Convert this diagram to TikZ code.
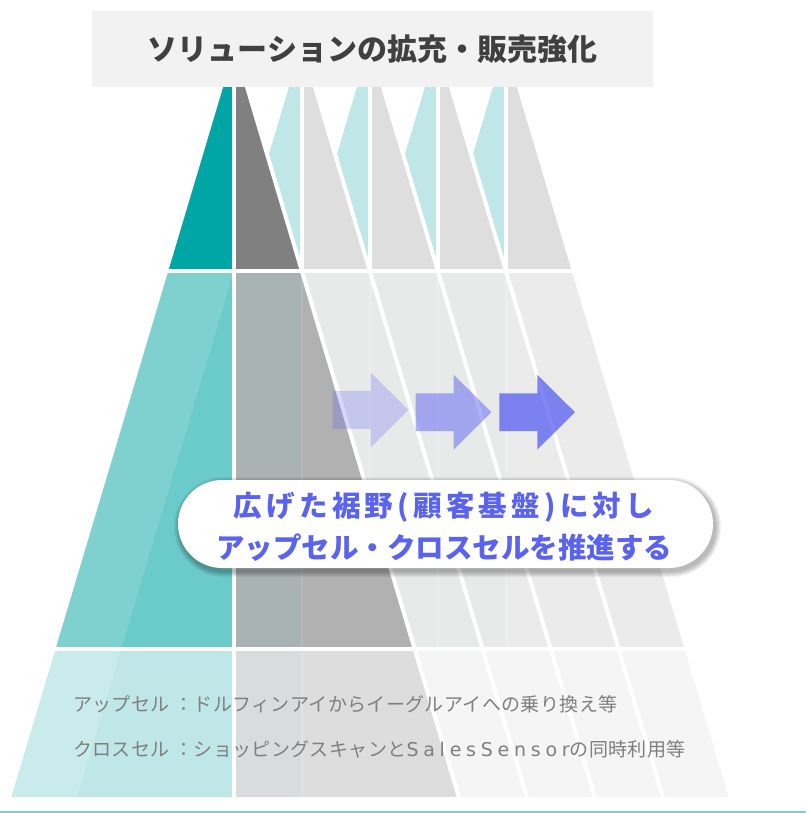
\documentclass[tikz,border=0pt]{standalone}
\usepackage{fontspec}
\setmainfont{Noto Sans CJK JP}
\newfontfamily\latinfont{DejaVu Sans}[LetterSpace=25]
\definecolor{cTeal}{HTML}{00A6A6}
\definecolor{cGray}{HTML}{808080}
\definecolor{cLTeal}{HTML}{BFE7E7}
\definecolor{cLGray}{HTML}{DEDEDE}
\definecolor{cTealB}{HTML}{7FD1D0}
\definecolor{cTealBd}{HTML}{6BCACA}
\definecolor{cGrayB}{HTML}{B1B1B1}
\definecolor{cGrayBt}{HTML}{AAB3B3}
\definecolor{cStripB}{HTML}{B8B8B8}
\definecolor{cLightB}{HTML}{EBEBEB}
\definecolor{cLightBt}{HTML}{E8EAEA}
\definecolor{cStripLB}{HTML}{EEEEEE}
\definecolor{cTealC}{HTML}{CAEBEC}
\definecolor{cTealCd}{HTML}{BFE7E7}
\definecolor{cGrayC}{HTML}{DDDDDD}
\definecolor{cGrayCt}{HTML}{D9DCDD}
\definecolor{cStripC}{HTML}{E2E2E2}
\definecolor{cLightC}{HTML}{F5F5F5}
\definecolor{cTitleBg}{HTML}{F2F2F2}
\definecolor{cTitleTx}{HTML}{404040}
\definecolor{cBlue}{HTML}{5A62F0}
\definecolor{cNote}{HTML}{7F7F7F}
\definecolor{cBase}{HTML}{7CCFCF}
\tikzset{
  gap/.style={draw=white, line width=4pt},
  arrowshape/.style={fill=cBlue, draw=none},
  shadowlayer/.style={fill=black, fill opacity=0.05, draw=none, rounded corners=#1},
}
\begin{document}
\begin{tikzpicture}[x=1pt,y=-1pt]
\useasboundingbox (0,0) rectangle (806,813);
% ---------- row 1 ----------
\foreach \c in {302,370,438,506}{
  \fill[cLTeal] (\c,43.4) -- (\c,271) -- ({\c-67.89},271) -- cycle;
}
\fill[cTeal] (234,43.4) -- (234,271) -- (166.11,271) -- cycle;
\fill[cGray] (234,43.4) -- (234,271) -- (301.89,271) -- cycle;
\foreach \c in {302,370,438,506}{
  \fill[cLGray] (\c,43.4) -- (\c,271) -- ({\c+67.89},271) -- cycle;
}
% ---------- row 2 ----------
\fill[cTealB] (166.11,271) -- (234,271) -- (234,649) -- (53.35,649) -- cycle;
\fill[cTealBd] (234,271.4) -- (234,649) -- (121.35,649) -- cycle;
\fill[cGrayB] (234,271) -- (301.89,271) -- (414.65,649) -- (234,649) -- cycle;
\fill[cGrayBt] (234,271) rectangle (302,649);
\fill[cStripB] (300.8,271) rectangle (303.2,649);
\fill[cLightB] (301.89,271) -- (573.89,271) -- (686.65,649) -- (414.65,649) -- cycle;
\begin{scope}
  \clip (301.89,271) -- (573.89,271) -- (686.65,649) -- (414.65,649) -- cycle;
  \fill[cLightBt] (300,271) rectangle (506,649);
  \foreach \c in {370,438,506}{\fill[cStripLB] ({\c-1.2},271) rectangle ({\c+1.2},649);}
\end{scope}
% ---------- row 3 ----------
\fill[cTealC] (53.35,649) -- (234,649) -- (234,797) -- (9.2,797) -- cycle;
\fill[cTealCd] (121.35,649) -- (234,649) -- (234,797) -- (77.2,797) -- cycle;
\fill[cGrayC] (234,649) -- (414.65,649) -- (458.8,797) -- (234,797) -- cycle;
\fill[cGrayCt] (234,649) rectangle (302,797);
\fill[cStripC] (300.8,649) rectangle (303.2,797);
\fill[cLightC] (414.65,649) -- (686.65,649) -- (730.8,797) -- (458.8,797) -- cycle;
% ---------- white gaps ----------
\draw[gap] (234,43.4) -- (9.2,797);
\draw[gap] (234,43.4) -- (234,797);
\foreach \c in {234,302,370,438,506}{
  \draw[gap] (\c,43.4) -- ({\c+224.8},797);
}
\foreach \c in {302,370,438,506}{
  \draw[gap] (\c,43.4) -- (\c,271);
}
\draw[gap] (0,271) -- (806,271);
\draw[gap] (0,649) -- (806,649);
% ---------- arrows ----------
\fill[arrowshape, fill opacity=0.25] (332.7,391.1) -- (370.7,391.1) -- (370.7,372.6) -- (408.4,410) -- (370.7,447.4) -- (370.7,428.9) -- (332.7,428.9) -- cycle;
\fill[arrowshape, fill opacity=0.5] (415.7,393.3) -- (453.7,393.3) -- (453.7,374.8) -- (491.4,412.2) -- (453.7,449.6) -- (453.7,431.1) -- (415.7,431.1) -- cycle;
\fill[arrowshape, fill opacity=0.77] (499.3,393.3) -- (537.3,393.3) -- (537.3,374.8) -- (575,412.2) -- (537.3,449.6) -- (537.3,431.1) -- (499.3,431.1) -- cycle;
% ---------- title ----------
\node[fill=cTitleBg, minimum width=561pt, minimum height=76pt, inner sep=0pt,
      text=cTitleTx, font=\bfseries\fontsize{30}{30}\selectfont] (title) at (372.5,49)
      {ソリューションの拡充・販売強化};
% ---------- callout ----------
\foreach \i in {1,...,6}{
  \fill[shadowlayer={44pt+\i pt}] ({178+2-\i},{480+3-\i}) rectangle ({713+2+\i},{568+3+\i});
}
\node[fill=white, rounded corners=44pt, minimum width=535pt, minimum height=88pt, inner sep=0pt] (msg) at (445.5,524) {};
\node[text=cBlue, font=\bfseries\fontsize{28.5}{42}\selectfont, align=center, inner sep=0pt] (msgtext) at (444,527)
  {{\addfontfeature{LetterSpace=15}広げた裾野(顧客基盤)に対し}\\アップセル・クロスセルを推進する};
% ---------- notes ----------
\node[anchor=base west, inner sep=0pt, text=cNote, font=\fontsize{19}{19}\selectfont\addfontfeature{LetterSpace=2}] (up) at (73,711)
  {アップセル ：ドルフィンアイからイーグルアイへの乗り換え等};
\node[anchor=base west, inner sep=0pt, text=cNote, font=\fontsize{19}{19}\selectfont\addfontfeature{LetterSpace=2}] (cross) at (73,756)
  {クロスセル ：ショッピングスキャンと{\latinfont SalesSensor}の同時利用等};
% ---------- base line ----------
\coordinate (bl) at (0,811.5);
\coordinate (br) at (806,811.5);
\draw[cBase, line width=2pt] (bl) -- (br);
\end{tikzpicture}
\end{document}
